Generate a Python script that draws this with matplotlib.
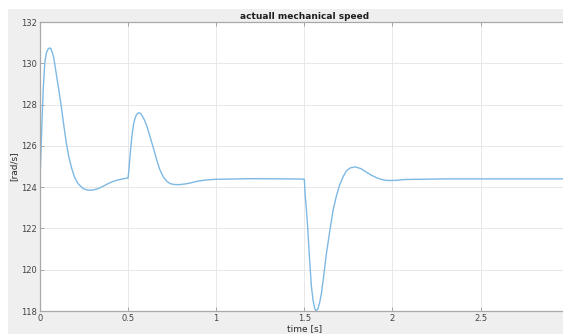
"""Actual mechanical speed step response, MATLAB-style figure."""
import matplotlib
matplotlib.use("Agg")
import matplotlib.pyplot as plt
from matplotlib.patches import Rectangle

# time [s] and speed [rad/s]
time_s = [0.0, 0.005, 0.011, 0.018, 0.027, 0.036, 0.045, 0.053, 0.061, 0.069,
          0.077, 0.085, 0.093, 0.107, 0.121, 0.135, 0.15, 0.164, 0.178, 0.195,
          0.216, 0.245, 0.273, 0.30, 0.33, 0.36, 0.386, 0.415, 0.443, 0.47,
          0.497,
          0.50, 0.505, 0.51, 0.515, 0.522, 0.53, 0.538, 0.547, 0.556, 0.564,
          0.572, 0.58, 0.59, 0.60, 0.612, 0.625, 0.645, 0.663, 0.68, 0.70,
          0.72, 0.739, 0.76, 0.786, 0.82, 0.852, 0.89, 0.928, 0.96, 1.0,
          1.2, 1.4, 1.498,
          1.50, 1.505, 1.512, 1.519, 1.53, 1.54, 1.55, 1.56, 1.568, 1.577,
          1.587, 1.597, 1.61, 1.625, 1.645, 1.663, 1.68, 1.70, 1.72, 1.738,
          1.76, 1.79, 1.82, 1.85, 1.88, 1.907, 1.935, 1.963, 1.99, 2.02,
          2.07, 2.3, 2.6, 2.97]
speed = [124.4, 125.6, 127.1, 128.7, 130.0, 130.5, 130.68, 130.74, 130.72, 130.55,
         130.3, 129.9, 129.45, 128.7, 127.9, 127.0, 126.1, 125.45, 124.97, 124.5,
         124.17, 123.93, 123.85, 123.86, 123.93, 124.05, 124.17, 124.28, 124.35, 124.4,
         124.44,
         124.44, 124.9, 125.4, 125.9, 126.5, 127.0, 127.3, 127.5, 127.58, 127.6,
         127.55, 127.45, 127.3, 127.1, 126.8, 126.43, 125.85, 125.3, 124.85, 124.49,
         124.28, 124.17, 124.13, 124.12, 124.15, 124.2, 124.28, 124.33, 124.36, 124.38,
         124.41, 124.4, 124.39,
         124.38, 123.6, 122.9, 122.06, 120.5, 119.2, 118.5, 118.1, 118.0, 118.1,
         118.4, 118.85, 119.7, 120.76, 121.9, 122.87, 123.5, 124.1, 124.5, 124.78,
         124.93, 124.98, 124.9, 124.74, 124.58, 124.47, 124.38, 124.33, 124.32, 124.33,
         124.37, 124.4, 124.4, 124.4]

xticks = [0, 0.5, 1, 1.5, 2, 2.5]
xtick_labels = ["0", "0.5", "1", "1.5", "2", "2.5"]
yticks = [118, 120, 122, 124, 126, 128, 130, 132]

W, H = 563, 334
fig = plt.figure(figsize=(W / 100, H / 100), dpi=100, facecolor="white")
# grey MATLAB figure background, offset slightly from the top-left corner
fig.patches.append(Rectangle((8 / W, 0), 1 - 8 / W, 1 - 9 / H,
                             transform=fig.transFigure, facecolor="#efefef",
                             edgecolor="none", zorder=-10))

ax = fig.add_axes([40 / W, 23 / H, 1 - 40 / W + 0.01, (311 - 22) / H])
ax.set_facecolor("white")
ax.plot(time_s, speed, color="#7db9e3", linewidth=1.0,
        solid_joinstyle="round")

ax.set_xlim(0, 3.0)
ax.set_ylim(118, 132)
ax.set_xticks(xticks)
ax.set_xticklabels(xtick_labels)
ax.set_yticks(yticks)
ax.grid(True, color="#e4e4e4", linewidth=0.6)
ax.set_axisbelow(True)
ax.tick_params(direction="in", length=3, width=0.6, colors="#9a9a9a",
               labelcolor="#444444", labelsize=6, top=True, pad=2.5)
for side in ["left", "bottom", "top", "right"]:
    ax.spines[side].set_color("#a8a8a8")
    ax.spines[side].set_linewidth(0.9)

ax.set_title("actuall mechanical speed", fontsize=6.5, fontweight="bold",
             color="#1e1e1e", pad=2.5)
ax.set_xlabel("time [s]", fontsize=6.5, color="#2a2a2a", labelpad=0.5)
ax.set_ylabel("[rad/s]", fontsize=6.5, color="#2a2a2a", labelpad=2)

fig.savefig("out.png", dpi=100, facecolor=fig.get_facecolor())
